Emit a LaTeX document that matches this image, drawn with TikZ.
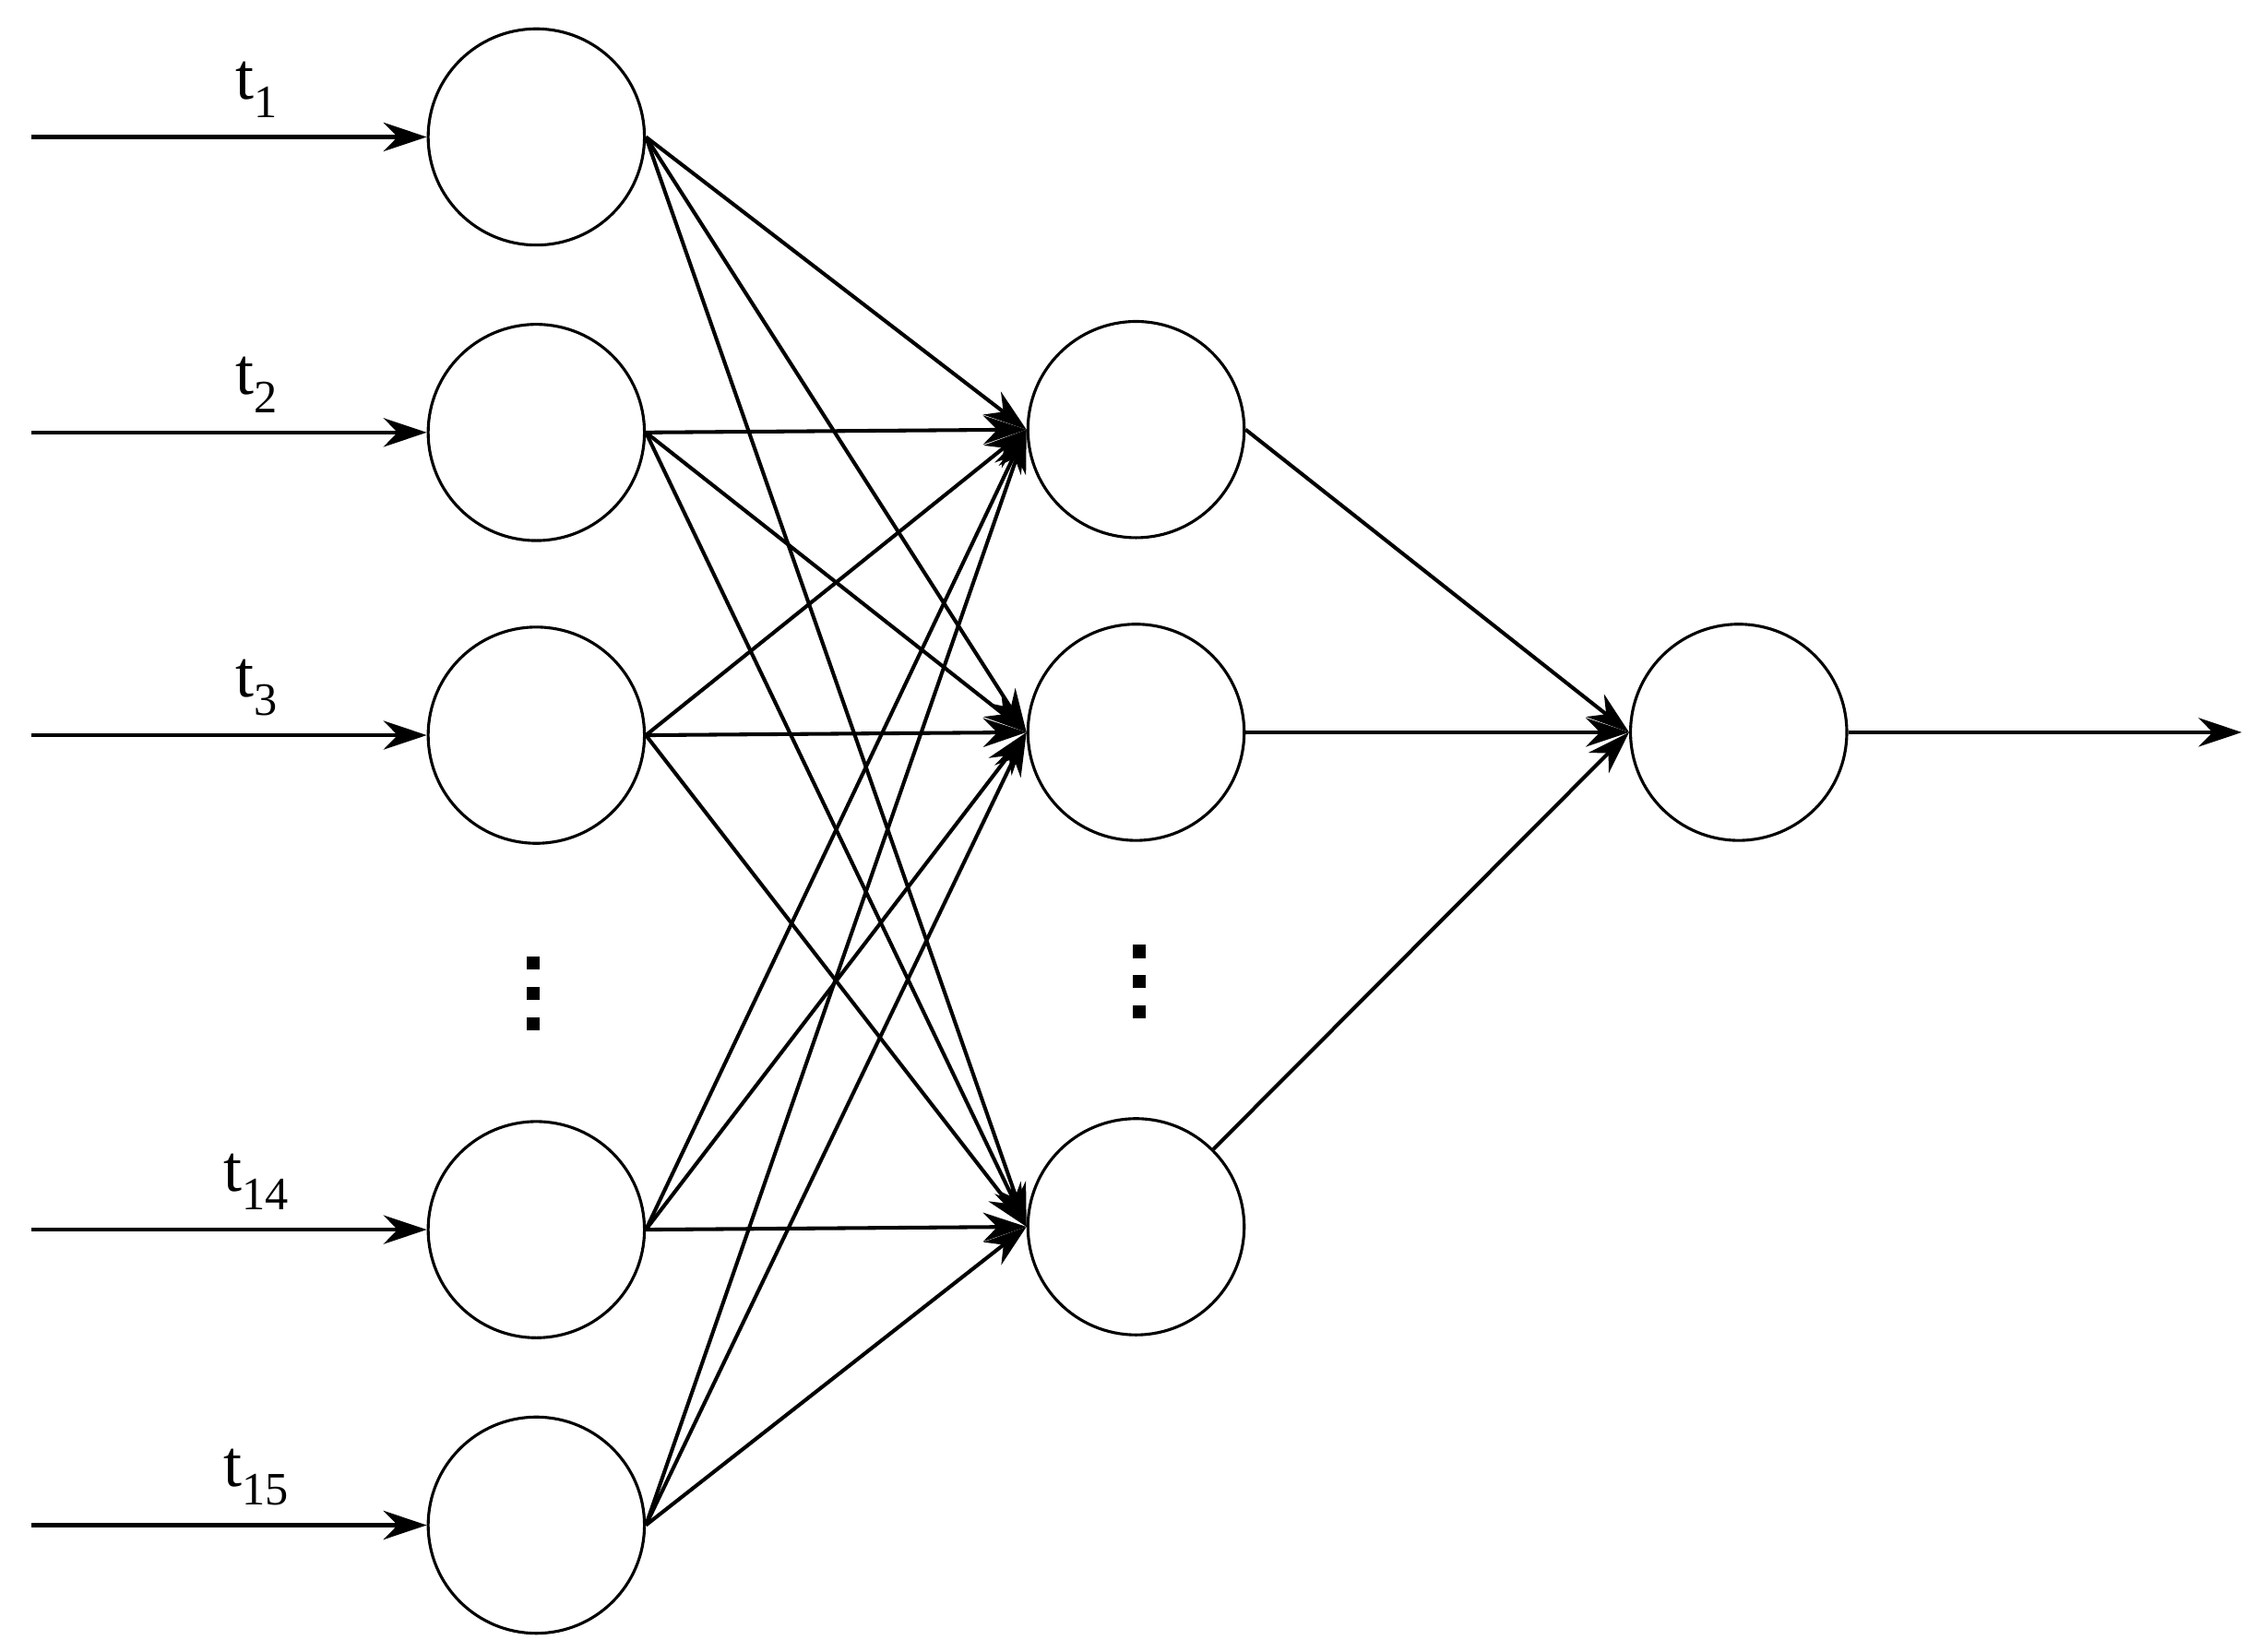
\documentclass[tikz,border=0pt]{standalone}
\usepackage{fontspec}
\setmainfont{Liberation Serif}
\usetikzlibrary{arrows.meta}
\begin{document}
\begin{tikzpicture}[x=1pt,y=-1pt,
  neuron/.style={circle,draw,line width=2pt,minimum size=150pt,inner sep=0pt},
  conn/.style={line width=2.6pt,-{Stealth[length=30pt,width=20pt]}},
  dot/.style={fill=black,minimum size=9pt,inner sep=0pt},
  lab/.style={font=\fontsize{46}{46}\selectfont}]
\useasboundingbox (0,0) rectangle (1560,1146);
\foreach \n/\y in {1/95,2/300,3/510,14/853,15/1058}{
  \node[neuron] (i\n) at (372,\y) {};
  \coordinate (s\n) at (22,\y);
  \draw[conn] (s\n) -- (i\n.west);
  \node[lab] (l\n) at (178,\y-33) {t\textsubscript{\n}};
}
\foreach \n/\y in {1/298,2/508,3/851}{
  \node[neuron] (h\n) at (788,\y) {};
}
\node[neuron] (o) at (1206,508) {};
\coordinate (out) at (1555,508);
\foreach \a in {1,2,3,14,15}{
  \foreach \b in {1,2,3}{
    \draw[conn] (i\a.east) -- (h\b.west);
  }
}
\draw[conn] (h1.east) -- (o.west);
\draw[conn] (h2.east) -- (o.west);
\draw[conn] (h3) -- (o.west);
\draw[conn] (o.east) -- (out);
\foreach \k/\y in {a/668,b/689,c/710}{\node[dot] (da\k) at (370,\y) {};}
\foreach \k/\y in {a/660,b/681,c/702}{\node[dot] (db\k) at (790,\y) {};}
\end{tikzpicture}
\end{document}
